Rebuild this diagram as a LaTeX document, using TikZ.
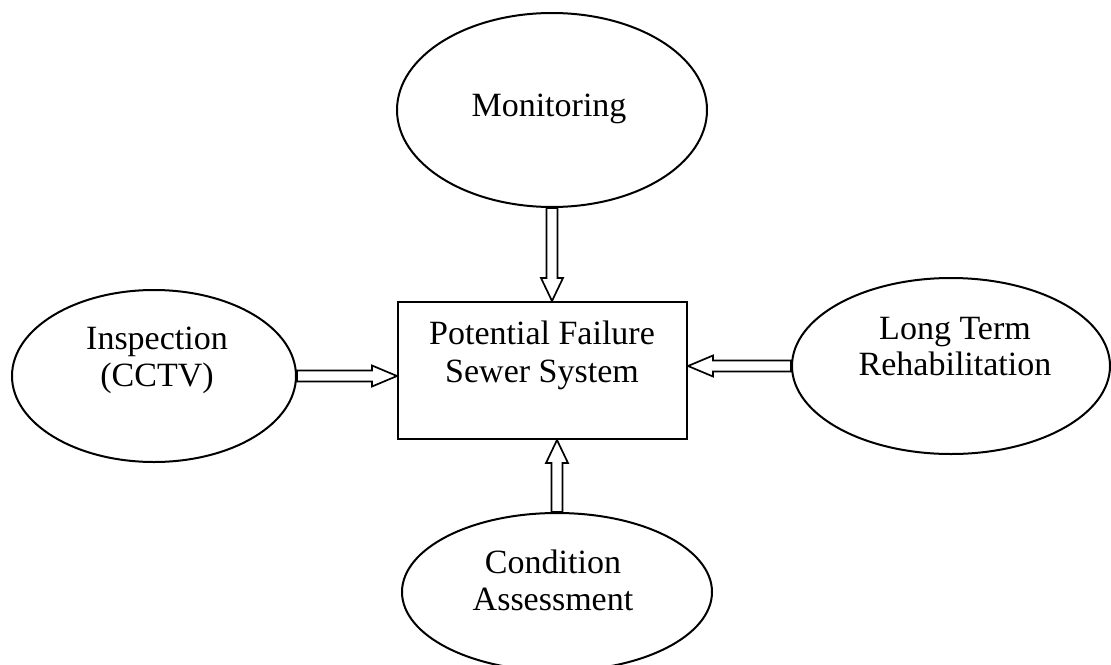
\documentclass[tikz,border=0pt]{standalone}
\usepackage{fontspec}
\setmainfont{Liberation Serif}
\usetikzlibrary{shapes.geometric,calc}

% Hollow block arrow along a vertical line, from #1 to the level of #2
\newcommand\vblock[2]{%
  \draw[blockarrow] let \p1=(#1), \p2=(#2), \n1={sign(\y2-\y1)} in
    (\x1-5.5pt,\y1) -- (\x1-5.5pt,\y2-\n1*23pt) -- (\x1-11pt,\y2-\n1*23pt)
    -- (\x1,\y2) -- (\x1+11pt,\y2-\n1*23pt) -- (\x1+5.5pt,\y2-\n1*23pt)
    -- (\x1+5.5pt,\y1) -- cycle;}
% Hollow block arrow along a horizontal line, from #1 to the level of #2
\newcommand\hblock[2]{%
  \draw[blockarrow] let \p1=(#1), \p2=(#2), \n1={sign(\x2-\x1)} in
    (\x1,\y1-5.5pt) -- (\x2-\n1*25pt,\y1-5.5pt) -- (\x2-\n1*25pt,\y1-10.5pt)
    -- (\x2,\y1) -- (\x2-\n1*25pt,\y1+10.5pt) -- (\x2-\n1*25pt,\y1+5.5pt)
    -- (\x1,\y1+5.5pt) -- cycle;}

\begin{document}
\begin{tikzpicture}[x=1pt,y=-1pt,
  oval/.style={draw, line width=2pt, ellipse, inner sep=0pt},
  centerbox/.style={draw, line width=2pt, rectangle, inner sep=0pt},
  blockarrow/.style={draw, line width=1.7pt, fill=white, line join=miter},
  lbl/.style={anchor=base, inner sep=0pt, font=\fontsize{34}{37}\selectfont}]
\useasboundingbox (0,0) rectangle (1111,664);

% outer activities
\node[oval, minimum width=310pt, minimum height=194pt] (mon) at (552,110) {};
\node[oval, minimum width=284pt, minimum height=172pt] (insp) at (154,376) {};
\node[oval, minimum width=318pt, minimum height=176pt] (long) at (951,366) {};
\node[oval, minimum width=310pt, minimum height=158pt] (cond) at (557,592) {};

% central system
\node[centerbox, minimum width=289pt, minimum height=137pt] (box) at (542.5,370.5) {};

% labels
\node[lbl] (mon-t) at (549,116) {Monitoring};
\node[lbl] (insp-t1) at (157,349) {Inspection};
\node[lbl] (insp-t2) at (157,386) {(CCTV)};
\node[lbl] (long-t1) at (955,339) {Long Term};
\node[lbl] (long-t2) at (955,375) {Rehabilitation};
\node[lbl] (box-t1) at (542,344) {Potential Failure};
\node[lbl] (box-t2) at (542,382) {Sewer System};
\node[lbl] (cond-t1) at (553,573) {Condition};
\node[lbl] (cond-t2) at (553,610) {Assessment};

% flows into the sewer system
\vblock{mon.south}{box.north}
\vblock{cond.north}{box.south}
\hblock{insp.east}{box.west}
\hblock{long.west}{box.east}
\end{tikzpicture}
\end{document}
